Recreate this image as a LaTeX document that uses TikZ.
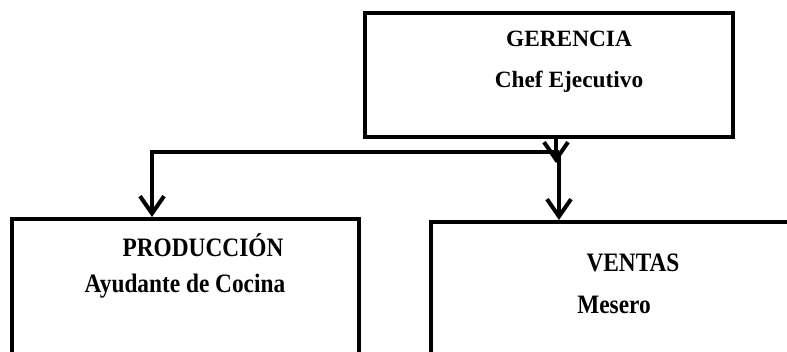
\documentclass[tikz,border=0pt]{standalone}
\usepackage{fontspec}
\setmainfont{Liberation Serif}
\usetikzlibrary{arrows.meta}
\tikzset{
  box/.style={draw=black, line width=3pt, inner sep=0pt},
  lbl/.style={font=\fontsize{17.5}{20}\selectfont\bfseries, inner sep=0pt, anchor=base},
  conn/.style={line width=3pt, -{Straight Barb[length=13pt,width=18pt,line width=3pt]}},
}
\newcommand{\tallt}[1]{\scalebox{1}[1.14]{#1}}
\begin{document}
\begin{tikzpicture}[x=0.75pt,y=-0.75pt]
\useasboundingbox (0,0) rectangle (787,352);
\clip (0,0) rectangle (787,352);
% boxes
\node[box, minimum width=368*0.75pt, minimum height=124*0.75pt] (ger) at (549,75) {};
\node[box, minimum width=347*0.75pt, minimum height=200*0.75pt] (prod) at (185.5,319) {};
\node[box, minimum width=380*0.75pt, minimum height=200*0.75pt] (vent) at (621,322) {};
% texts
\node[lbl] (t1) at (569,47) {GERENCIA};
\node[lbl] (t2) at (569,88) {Chef Ejecutivo};
\node[lbl] (t3) at (203,257) {\tallt{PRODUCCIÓN}};
\node[lbl] (t4) at (185,292) {\tallt{Ayudante de Cocina}};
\node[lbl] (t5) at (633,272) {\tallt{VENTAS}};
\node[lbl] (t6) at (614,313) {\tallt{Mesero}};
% connectors
\coordinate (gx) at (ger.south -| 556,0);
\coordinate (gend) at (556,163);
\coordinate (hub) at (559,152);
\coordinate (lc) at (152,152);
\draw[conn] (gx) -- (gend);
\draw[conn, line join=miter] (hub) -- (lc) -- (lc |- prod.north);
\draw[conn] (hub) -- (hub |- vent.north);
\end{tikzpicture}
\end{document}
